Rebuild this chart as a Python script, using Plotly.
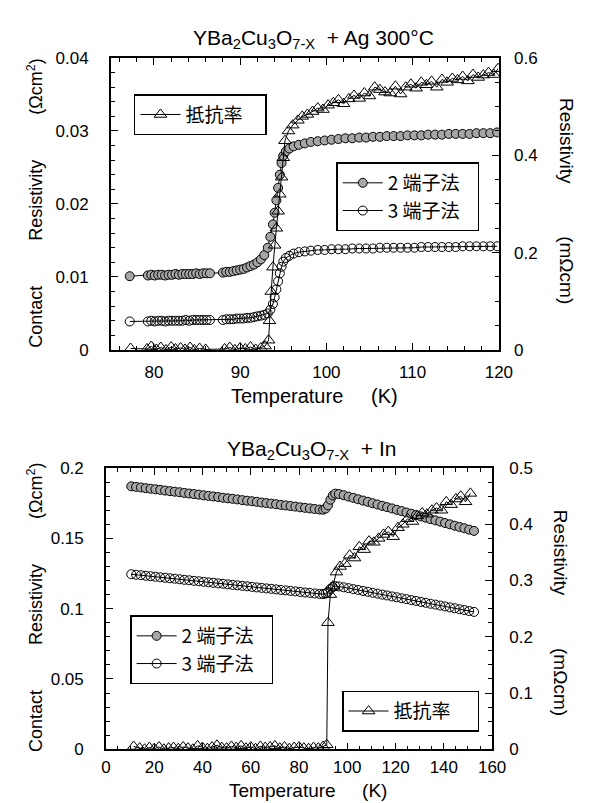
import plotly.graph_objects as go

# ---------------- data: top panel (YBCO + Ag 300°C) ----------------
top_temp = [77.2, 79.3, 79.7, 80.1, 80.5, 80.9, 81.3, 81.7, 82.1, 82.5, 82.9, 83.3, 83.7, 84.1,
            84.5, 84.9, 85.3, 85.7, 86.1, 86.5, 88.0, 88.4, 88.8, 89.2, 89.6, 90.0, 90.4, 90.8,
            91.2, 91.6, 92.0, 92.4, 92.8, 93.2, 93.5, 93.8, 94.0, 94.2, 94.4, 94.6, 94.8, 95.0,
            95.3, 95.7, 96.2, 96.8, 97.5, 98.2, 99.0, 99.8, 100.6, 101.4, 102.2, 103.0, 103.8,
            104.6, 105.4, 106.2, 107.0, 107.8, 108.6, 109.4, 110.2, 111.0, 111.8, 112.6, 113.4,
            114.2, 115.0, 115.8, 116.6, 117.4, 118.2, 119.0, 119.8]
top_two_terminal = [0.0101, 0.0102, 0.0103, 0.0102, 0.0103, 0.0103, 0.0102, 0.0103, 0.0103, 0.0104,
                    0.0103, 0.0104, 0.0104, 0.0104, 0.0104, 0.0105, 0.0104, 0.0105, 0.0105, 0.0105,
                    0.0106, 0.0107, 0.0107, 0.0108, 0.0109, 0.0110, 0.0111, 0.0113, 0.0115, 0.0117,
                    0.0120, 0.0124, 0.0130, 0.0140, 0.0155, 0.0172, 0.0188, 0.0205, 0.0222, 0.0240,
                    0.0256, 0.0266, 0.0272, 0.0276, 0.0279, 0.0281, 0.0283, 0.0285, 0.0286, 0.0287,
                    0.0288, 0.0289, 0.0290, 0.0290, 0.0291, 0.0291, 0.0292, 0.0292, 0.0293, 0.0293,
                    0.0293, 0.0294, 0.0294, 0.0294, 0.0295, 0.0295, 0.0295, 0.0296, 0.0296, 0.0296,
                    0.0296, 0.0297, 0.0297, 0.0297, 0.0298]
top_three_terminal = [0.0039, 0.0039, 0.0040, 0.0039, 0.0040, 0.0040, 0.0039, 0.0040, 0.0040, 0.0040,
                      0.0040, 0.0040, 0.0041, 0.0040, 0.0041, 0.0041, 0.0041, 0.0041, 0.0041, 0.0041,
                      0.0041, 0.0042, 0.0042, 0.0042, 0.0043, 0.0043, 0.0043, 0.0044, 0.0044, 0.0045,
                      0.0046, 0.0047, 0.0048, 0.0050, 0.0055, 0.0063, 0.0072, 0.0083, 0.0094, 0.0105,
                      0.0114, 0.0121, 0.0126, 0.0129, 0.0132, 0.0134, 0.0135, 0.0136, 0.0137, 0.0137,
                      0.0138, 0.0138, 0.0138, 0.0139, 0.0139, 0.0139, 0.0139, 0.0140, 0.0140, 0.0140,
                      0.0140, 0.0140, 0.0140, 0.0141, 0.0141, 0.0141, 0.0141, 0.0141, 0.0141, 0.0142,
                      0.0142, 0.0142, 0.0142, 0.0142, 0.0142]
top_rho_temp = [77.3, 79.2, 79.7, 80.3, 80.8, 81.4, 82.0, 82.5, 83.1, 83.6, 84.2, 84.7, 85.3, 86.0,
                88.2, 88.8, 89.4, 90.0, 90.6, 91.2, 91.8, 92.4, 92.9, 93.3, 93.4, 93.6, 93.8, 94.0,
                94.2, 94.4, 94.6, 94.8, 95.0, 95.2, 95.6, 96.1, 96.7, 97.2, 97.8, 98.4, 99.0, 99.6,
                100.2, 100.8, 101.4, 102.0, 102.6, 103.2, 103.8, 104.4, 105.0, 105.6, 106.2, 106.8,
                107.4, 108.0, 108.6, 109.2, 109.8, 110.4, 111.0, 111.6, 112.2, 112.8, 113.4, 114.0,
                114.6, 115.2, 115.8, 116.4, 117.0, 117.6, 118.2, 118.8, 119.4, 119.9]
top_rho = [0.003, 0.002, 0.007, 0.001, 0.005, 0.000, 0.006, 0.002, 0.004, 0.001, 0.005, 0.000, 0.003,
           0.001, 0.002, 0.005, 0.000, 0.004, 0.002, 0.006, 0.001, 0.004, 0.008, 0.020, 0.060, 0.120,
           0.170, 0.215, 0.250, 0.285, 0.320, 0.355, 0.395, 0.430, 0.450, 0.462, 0.472, 0.480, 0.484,
           0.490, 0.497, 0.494, 0.503, 0.508, 0.514, 0.506, 0.516, 0.523, 0.517, 0.528, 0.522, 0.540,
           0.535, 0.530, 0.528, 0.542, 0.526, 0.540, 0.546, 0.538, 0.550, 0.545, 0.552, 0.540, 0.556,
           0.550, 0.558, 0.555, 0.562, 0.553, 0.566, 0.560, 0.565, 0.570, 0.566, 0.578]

# ---------------- data: bottom panel (YBCO + In) ----------------
bot_temp = [10.5, 12.5, 14.5, 16.5, 18.5, 20.5, 22.5, 24.5, 26.5, 28.5, 30.5, 32.5, 34.5, 36.5,
            38.5, 40.5, 42.5, 44.5, 46.5, 48.5, 50.5, 52.5, 54.5, 56.5, 58.5, 60.5, 62.5, 64.5,
            66.5, 68.5, 70.5, 72.5, 74.5, 76.5, 78.5, 80.5, 82.5, 84.5, 86.5, 88.5, 90.0, 91.0,
            92.0, 93.0, 94.0, 95.0, 96.5, 98.5, 100.5, 102.5, 104.5, 106.5, 108.5, 110.5, 112.5,
            114.5, 116.5, 118.5, 120.5, 122.5, 124.5, 126.5, 128.5, 130.5, 132.5, 134.5, 136.5,
            138.5, 140.5, 142.5, 144.5, 146.5, 148.5, 150.5, 152.5]
bot_two_terminal = [0.1870, 0.1866, 0.1862, 0.1857, 0.1853, 0.1849, 0.1845, 0.1840, 0.1836, 0.1832,
                    0.1828, 0.1823, 0.1819, 0.1815, 0.1811, 0.1806, 0.1802, 0.1798, 0.1794, 0.1789,
                    0.1785, 0.1781, 0.1777, 0.1772, 0.1768, 0.1764, 0.1760, 0.1755, 0.1751, 0.1747,
                    0.1743, 0.1738, 0.1734, 0.1730, 0.1726, 0.1721, 0.1717, 0.1713, 0.1709, 0.1705,
                    0.1704, 0.1712, 0.1735, 0.1775, 0.1805, 0.1818, 0.1815, 0.1807, 0.1797, 0.1788,
                    0.1778, 0.1769, 0.1760, 0.1750, 0.1741, 0.1731, 0.1722, 0.1713, 0.1703, 0.1694,
                    0.1684, 0.1675, 0.1666, 0.1656, 0.1647, 0.1637, 0.1628, 0.1619, 0.1609, 0.1600,
                    0.1590, 0.1581, 0.1572, 0.1562, 0.1553]
bot_three_terminal = [0.1245, 0.1241, 0.1238, 0.1234, 0.1231, 0.1227, 0.1223, 0.1220, 0.1216, 0.1213,
                      0.1209, 0.1205, 0.1202, 0.1198, 0.1195, 0.1191, 0.1187, 0.1184, 0.1180, 0.1177,
                      0.1173, 0.1169, 0.1166, 0.1162, 0.1159, 0.1155, 0.1151, 0.1148, 0.1144, 0.1141,
                      0.1137, 0.1133, 0.1130, 0.1126, 0.1123, 0.1119, 0.1115, 0.1112, 0.1108, 0.1105,
                      0.1104, 0.1108, 0.1120, 0.1140, 0.1155, 0.1160, 0.1158, 0.1152, 0.1146, 0.1139,
                      0.1133, 0.1126, 0.1120, 0.1113, 0.1107, 0.1100, 0.1094, 0.1087, 0.1081, 0.1074,
                      0.1068, 0.1061, 0.1055, 0.1048, 0.1042, 0.1035, 0.1029, 0.1022, 0.1016, 0.1009,
                      0.1003, 0.0996, 0.0990, 0.0983, 0.0977]
bot_rho_temp = [11.5, 14, 16, 18, 20, 22, 24, 26, 28, 30, 32, 34, 36, 38, 40, 42, 44, 46, 48, 50,
                52, 54, 56, 58, 60, 62, 64, 66, 68, 70, 72, 74, 76, 78, 80, 82, 84, 86, 88, 90, 91.5,
                92, 93, 94, 95.5, 97, 99, 101, 103, 105, 107, 109, 111, 113, 115, 117, 119, 121, 123,
                125, 127, 129, 131, 133, 135, 137, 139, 141, 143, 145, 147, 149, 151]
bot_rho = [0.005, 0.002, 0.000, 0.003, 0.001, 0.004, 0.000, 0.002, 0.003, 0.001, 0.004, 0.002, 0.000,
           0.006, 0.003, 0.001, 0.004, 0.007, 0.003, 0.002, 0.005, 0.003, 0.006, 0.002, 0.004, 0.001,
           0.005, 0.003, 0.004, 0.006, 0.002, 0.004, 0.001, 0.003, 0.004, 0.002, 0.001, 0.003, 0.002,
           0.005, 0.008, 0.225, 0.275, 0.290, 0.315, 0.325, 0.330, 0.345, 0.340, 0.360, 0.355, 0.370,
           0.368, 0.375, 0.382, 0.387, 0.378, 0.394, 0.400, 0.410, 0.405, 0.415, 0.420, 0.418, 0.425,
           0.429, 0.425, 0.440, 0.435, 0.445, 0.450, 0.440, 0.455]

# ---------------- styling ----------------
FONT = "Liberation Sans, Arial, Noto Sans CJK JP, sans-serif"
CJK = "Noto Sans CJK JP, Liberation Sans, sans-serif"
W, H = 592, 803
nb = "\u00a0"


def px_x(p):
    return p / W


def px_y(p):
    return 1 - p / H


line_style = dict(color="black", width=1)
mk_two = dict(symbol="circle", size=9, color="#a6a6a6", line=dict(color="black", width=1))
mk_three = dict(symbol="circle-open", size=9, color="black", line=dict(color="black", width=1))
mk_tri = dict(symbol="triangle-up-open", size=11, color="black", line=dict(color="black", width=1))

fig = go.Figure()

# top panel
fig.add_trace(go.Scatter(x=top_temp, y=top_two_terminal, xaxis="x", yaxis="y", mode="lines+markers",
                         name="2 端子法" + nb * 3, legend="legend2", line=line_style, marker=mk_two,
                         showlegend=True))
fig.add_trace(go.Scatter(x=top_temp, y=top_three_terminal, xaxis="x", yaxis="y", mode="lines+markers",
                         name="3 端子法" + nb * 3, legend="legend2", line=line_style, marker=mk_three,
                         showlegend=True))
fig.add_trace(go.Scatter(x=top_rho_temp, y=top_rho, xaxis="x", yaxis="y3", mode="lines+markers",
                         name="抵抗率" + nb * 4, legend="legend", line=line_style, marker=mk_tri,
                         showlegend=True))

# bottom panel
fig.add_trace(go.Scatter(x=bot_temp, y=bot_two_terminal, xaxis="x2", yaxis="y2", mode="lines+markers",
                         name="2 端子法" + nb * 3, legend="legend3", line=line_style, marker=mk_two,
                         showlegend=True))
fig.add_trace(go.Scatter(x=bot_temp, y=bot_three_terminal, xaxis="x2", yaxis="y2", mode="lines+markers",
                         name="3 端子法" + nb * 3, legend="legend3", line=line_style, marker=mk_three,
                         showlegend=True))
fig.add_trace(go.Scatter(x=bot_rho_temp, y=bot_rho, xaxis="x2", yaxis="y4", mode="lines+markers",
                         name="抵抗率" + nb * 5, legend="legend4", line=line_style, marker=mk_tri,
                         showlegend=True))

tickfont = dict(family=FONT, size=17, color="black")
common = dict(showline=True, linecolor="black", linewidth=1.5, ticks="inside", tickcolor="black",
              tickwidth=1.2, ticklen=7, showgrid=False, zeroline=False, tickfont=tickfont,
              minor=dict(ticks="inside", ticklen=4, tickcolor="black", tickwidth=1, showgrid=False))

top_xdom = [px_x(101), px_x(502)]
top_ydom = [px_y(341), px_y(42)]
bot_xdom = [px_x(96), px_x(495)]
bot_ydom = [px_y(750), px_y(462)]

fig.update_layout(
    width=W, height=H, margin=dict(l=0, r=0, t=0, b=0), showlegend=True,
    paper_bgcolor="white", plot_bgcolor="white",
    font=dict(family=FONT, color="black"),
    xaxis=dict(domain=top_xdom, anchor="y", range=[75, 120], dtick=10, tick0=0, mirror="ticks",
               ticklabelstandoff=6, **{**common, "minor": dict(common["minor"], dtick=2)}),
    yaxis=dict(domain=top_ydom, anchor="x", range=[0, 0.04], dtick=0.01, ticklabelstandoff=17,
               **{**common, "minor": dict(common["minor"], dtick=0.002)}),
    yaxis3=dict(overlaying="y", anchor="x", side="right", range=[0, 0.6], dtick=0.2, ticklabelstandoff=10,
                **{**common, "minor": dict(common["minor"], dtick=0.05)}),
    xaxis2=dict(domain=bot_xdom, anchor="y2", range=[0, 160], dtick=20, mirror="ticks",
                ticklabelstandoff=2, **{**common, "minor": dict(common["minor"], dtick=5)}),
    yaxis2=dict(domain=bot_ydom, anchor="x2", range=[0, 0.2], dtick=0.05, ticklabelstandoff=17,
                **{**common, "minor": dict(common["minor"], dtick=0.01)}),
    yaxis4=dict(overlaying="y2", anchor="x2", side="right", range=[0, 0.5], dtick=0.1, ticklabelstandoff=12,
                **{**common, "minor": dict(common["minor"], dtick=0.025)}),
)

legend_common = dict(bgcolor="white", bordercolor="black", borderwidth=1.5,
                     font=dict(family=CJK, size=19, color="black"), xanchor="left", yanchor="top",
                     itemwidth=40, tracegroupgap=0, visible=True)
fig.update_layout(
    legend=dict(x=px_x(125), y=px_y(79), **legend_common),
    legend2=dict(x=px_x(334), y=px_y(149), **legend_common),
    legend3=dict(x=px_x(121), y=px_y(613), **legend_common),
    legend4=dict(x=px_x(340), y=px_y(690), **legend_common),
)

sp = nb * 9
ann = [
    dict(text="YBa<sub>2</sub>Cu<sub>3</sub>O<sub>7-X</sub>" + nb * 2 + "+ Ag 300°C", x=px_x(310), y=px_y(23),
         font=dict(size=21)),
    dict(text="YBa<sub>2</sub>Cu<sub>3</sub>O<sub>7-X</sub>" + nb * 2 + "+ In", x=px_x(308), y=px_y(444),
         font=dict(size=21)),
    dict(text="Temperature" + nb * 5 + "(K)", x=px_x(311), y=px_y(388), font=dict(size=20)),
    dict(text="Temperature" + nb * 5 + "(K)", x=px_x(305), y=px_y(792), font=dict(size=19)),
    dict(text="Contact" + sp + "Resistivity" + sp + "(Ωcm<sup>2</sup>)", x=px_x(23), y=px_y(190),
         textangle=-90, font=dict(size=18)),
    dict(text="Contact" + sp + "Resistivity" + sp + "(Ωcm<sup>2</sup>)", x=px_x(23), y=px_y(604),
         textangle=-90, font=dict(size=18)),
    dict(text="Resistivity" + nb * 10 + "(mΩcm)", x=px_x(572), y=px_y(188),
         textangle=90, font=dict(size=19)),
    dict(text="Resistivity" + nb * 10 + "(mΩcm)", x=px_x(566), y=px_y(610),
         textangle=90, font=dict(size=19)),
]
for a in ann:
    a.update(xref="paper", yref="paper", showarrow=False, xanchor="center", yanchor="middle")
    a["font"] = dict(family=FONT, color="black", **a["font"])
fig.update_layout(annotations=ann)

fig.write_html("out.html")
